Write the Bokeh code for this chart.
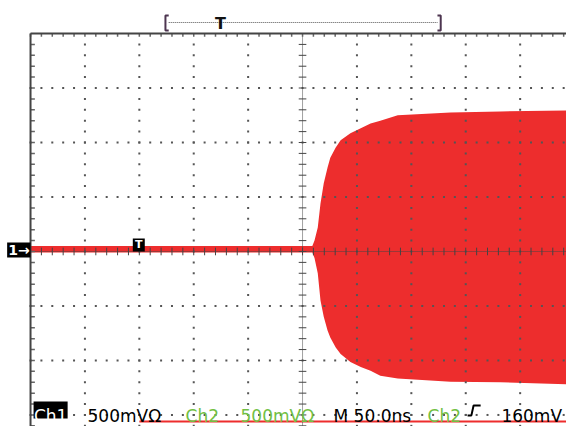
import numpy as np
from bokeh.plotting import figure
from bokeh.models import Range1d
from bokeh.embed import file_html
from bokeh.resources import INLINE
from bokeh.core.properties import value

# Ch1 burst envelope: time in ns (50 ns/div, 0 = screen centre), volts (500 mV/div)
burst_t_ns = [-250, 9, 11, 14, 16.5, 19.5, 23, 25.5, 30.5, 35, 44, 53.5, 62.5, 71.5, 87.5, 136, 182, 250]
burst_hi_v = [0.05, 0.05, 0.10, 0.22, 0.44, 0.625, 0.77, 0.86, 0.955, 1.02, 1.085, 1.13, 1.175, 1.20, 1.25, 1.275, 1.285, 1.295]
burst_lo_v = [-0.01, -0.01, -0.06, -0.20, -0.45, -0.60, -0.725, -0.79, -0.88, -0.94, -1.015, -1.06, -1.095, -1.14, -1.165, -1.195, -1.20, -1.22]

# second trace at the very bottom of the screen
ch2_t_ns = [-150, 250]
ch2_v = [-1.56, -1.56]

trigger_t_ns = -150
record_left_div = -2.52
record_right_div = 2.54
trigger_frac = 0.2

status_texts = ["500mVΩ", "Ch2", "500mVΩ", "M 50.0ns", "Ch2"]
status_x_ns = [-197.6, -107.5, -57.0, 28.5, 114.9]
GREEN = "#72c043"
status_colors = ["#000000", GREEN, GREEN, "#000000", GREEN]
trigger_level_text = "160mV"

NS_PER_DIV = 50.0
V_PER_DIV = 0.5
RED = "#ed2d2d"
FONT = value("DejaVu Sans")

# ---------------- figure ----------------
Y_BOT = -1.606
p = figure(width=566, height=426, output_backend="svg", toolbar_location=None,
           x_range=Range1d(-277.6, 242.6), y_range=Range1d(Y_BOT, 2.303),
           x_axis_location=None, y_axis_location=None, min_border=0)
p.min_border_left = p.min_border_right = p.min_border_top = p.min_border_bottom = 0
p.outline_line_color = None
p.grid.visible = False
p.background_fill_color = "white"
p.border_fill_color = "white"

D = NS_PER_DIV
V = V_PER_DIV
y_top = 4 * V
x_left = -5 * D
x_right = 5 * D

# waveform
p.varea(x=burst_t_ns, y1=burst_lo_v, y2=burst_hi_v, fill_color=RED)
p.line(ch2_t_ns, ch2_v, line_color=RED, line_width=2)

# ---------------- graticule ----------------
fine_y = np.arange(-17, 20) * 0.2 * V
fine_x = np.arange(-25, 26) * 0.2 * D
major_x = [k * D for k in range(-4, 6) if k != 0]
major_y = [k * V for k in range(-3, 4) if k != 0]

dx = [mx for mx in major_x for _ in fine_y]
dy = [fy for _ in major_x for fy in fine_y]
hx = [fx for _ in major_y for fx in fine_x]
hy = [my for my in major_y for _ in fine_x]
p.scatter(dx + hx, dy + hy, marker="square", size=2, fill_color="#555555", line_color=None)

# centre lines with ticks
p.line([0, 0], [Y_BOT, y_top], line_color="#444444", line_width=1, line_dash="1 1")
p.line([x_left, x_right], [0, 0], line_color="#444444", line_width=1, line_dash="1 1")
tick_w = 0.07
p.segment(x0=[-tick_w * D] * len(fine_y), x1=[tick_w * D] * len(fine_y), y0=list(fine_y), y1=list(fine_y),
          line_color="#444444", line_width=1)
p.segment(x0=list(fine_x), x1=list(fine_x), y0=[-tick_w * V] * len(fine_x), y1=[tick_w * V] * len(fine_x),
          line_color="#444444", line_width=1)

# border lines with ticks
p.segment(x0=list(fine_x), x1=list(fine_x), y0=[y_top] * len(fine_x), y1=[y_top - 0.06 * V] * len(fine_x),
          line_color="#666666", line_width=1.5)
p.segment(x0=[x_left] * len(fine_y), x1=[x_left + 0.08 * D] * len(fine_y), y0=list(fine_y), y1=list(fine_y),
          line_color="#666666", line_width=1.5)
p.line([x_left, x_right], [y_top, y_top], line_color="#444444", line_width=2)
p.line([x_left, x_left], [Y_BOT, y_top], line_color="#444444", line_width=2)

# ---------------- record bracket on top ----------------
bl = record_left_div * D
br = record_right_div * D
bt = (record_left_div + trigger_frac * (record_right_div - record_left_div)) * D
b_hi, b_lo, b_mid = 2.165, 2.028, 2.101
p.line([bl + 3, bl, bl, bl + 3], [b_hi, b_hi, b_lo, b_lo], line_color="#4d3550", line_width=2)
p.line([br - 3, br, br, br - 3], [b_hi, b_hi, b_lo, b_lo], line_color="#4d3550", line_width=2)
p.line([bl + 3, br - 3], [b_mid, b_mid], line_color="#555555", line_width=1, line_dash="1 1")
p.text(x=[bt], y=[b_mid - 0.005], text=["T"], text_font=FONT, text_font_size="16px",
       text_font_style="bold", text_align="center", text_baseline="middle", text_color="#111111")

# ---------------- channel 1 ground marker ----------------
p.quad(left=[-271.5], right=[x_left], bottom=[-0.055], top=[0.083], fill_color="black", line_color=None)
p.text(x=[-260.5], y=[0.012], text=["1→"], text_font=FONT, text_font_size="14px", text_font_style="bold",
       text_align="center", text_baseline="middle", text_color="white")

# ---------------- trigger position marker ----------------
p.quad(left=[trigger_t_ns - 6], right=[trigger_t_ns + 5], bottom=[0.0], top=[0.119],
       fill_color="black", line_color=None)
p.text(x=[trigger_t_ns - 0.5], y=[0.06], text=["T"], text_font=FONT, text_font_size="11px",
       text_font_style="bold", text_align="center", text_baseline="middle", text_color="white")

# ---------------- status line ----------------
base_v = -1.514
p.quad(left=[-247.2], right=[-215.9], bottom=[-1.532], top=[-1.376], fill_color="black", line_color=None)
p.text(x=[-231.5], y=[base_v], text=["Ch1"], text_font=FONT, text_font_size="17px",
       text_align="center", text_baseline="alphabetic", text_color="white")
p.text(x=status_x_ns, y=[base_v] * len(status_texts), text=status_texts, text_color=status_colors,
       text_font=FONT, text_font_size="17px", text_align="left", text_baseline="alphabetic")
p.text(x=[238.5], y=[base_v], text=[trigger_level_text], text_color="#000000",
       text_font=FONT, text_font_size="17px", text_align="right", text_baseline="alphabetic")
# rising-edge trigger slope symbol
ex = 151.7
p.line([ex, ex + 3.5, ex + 5.5, ex + 12], [base_v + 0.01, base_v + 0.01, base_v + 0.10, base_v + 0.10],
       line_color="black", line_width=2)

open("out.html", "w").write(file_html(p, INLINE))
